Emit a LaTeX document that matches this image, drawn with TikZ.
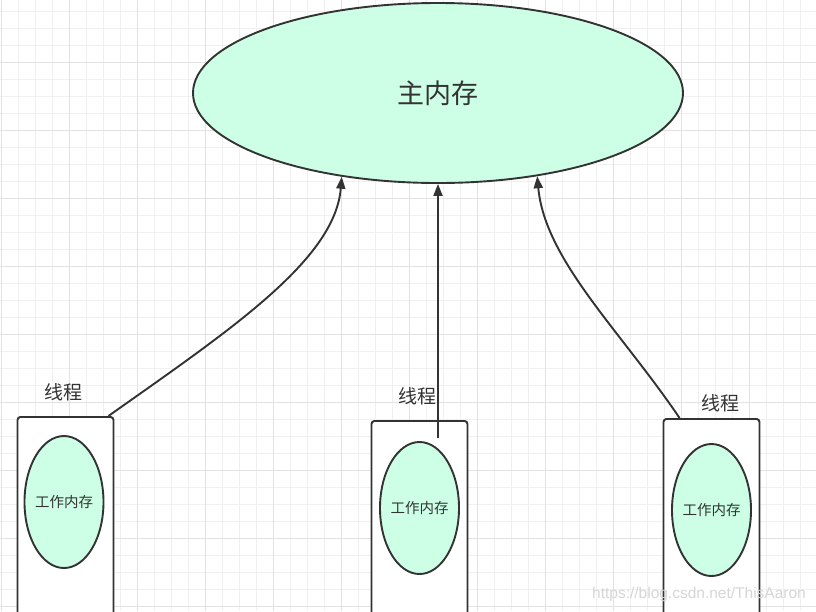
\documentclass[tikz,border=0pt]{standalone}
\usepackage{fontspec}
\setmainfont{Noto Sans CJK SC}
\newfontfamily\wmfont{Liberation Sans}
\usetikzlibrary{arrows.meta, positioning, shapes.geometric, calc}
\usepackage{xcolor}
\definecolor{MemFill}{HTML}{CCFFE6}
\definecolor{LineDark}{HTML}{333333}
\definecolor{GridMinor}{HTML}{F0F0F0}
\definecolor{GridMajor}{HTML}{E2E2E2}
\definecolor{MarkGray}{HTML}{D6D6D6}
\tikzset{
  mainmem/.style={ellipse, draw=LineDark, line width=1.9pt, fill=MemFill,
    minimum width=490pt, minimum height=180pt, inner sep=0pt,
    font=\fontsize{27}{32}\selectfont, text=LineDark},
  workmem/.style={ellipse, draw=LineDark, line width=1.9pt, fill=MemFill,
    minimum width=79pt, minimum height=132pt, inner xsep=-10pt, inner ysep=0pt,
    font=\fontsize{14.5}{17}\selectfont, text=LineDark},
  thrbox/.style={draw=LineDark, line width=1.9pt, rounded corners=3pt, fill=white,
    minimum width=96pt, minimum height=240pt, anchor=north},
  thrlabel/.style={font=\fontsize{19}{23}\selectfont, text=LineDark},
  flow/.style={-{Triangle[length=12pt, width=9pt]}, line width=1.9pt, draw=LineDark},
}

\begin{document}
\begin{tikzpicture}[x=1pt, y=-1pt]
    \clip (0,0) rectangle (816,611);
    \fill[white] (0,0) rectangle (816,611);
    % grid
    \foreach \gx in {1,18,...,816} \draw[GridMinor, line width=0.8pt] (\gx,0) -- (\gx,611);
    \foreach \gy in {11,28,...,611} \draw[GridMinor, line width=0.8pt] (0,\gy) -- (816,\gy);
    \foreach \gx in {1,69,...,816} \draw[GridMajor, line width=0.8pt] (\gx,0) -- (\gx,611);
    \foreach \gy in {62,130,...,611} \draw[GridMajor, line width=0.8pt] (0,\gy) -- (816,\gy);

    \node[mainmem] (mem) at (438,93) {主内存};

    \node[thrbox] (thr1) at (65.5,416) {};
    \node[thrbox] (thr2) at (419.5,420) {};
    \node[thrbox] (thr3) at (711.5,418) {};

    \node[workmem] (wm1) at (64,502) {工作内存};
    \node[workmem] (wm2) at (419.5,508) {工作内存};
    \node[workmem] (wm3) at (711.5,510) {工作内存};

    \node[thrlabel] (lab1) at (63,392) {线程};
    \node[thrlabel] (lab2) at (417,396) {线程};
    \node[thrlabel] (lab3) at (720,403) {线程};

    \coordinate (s2) at (438,438);
    \draw[flow] ([xshift=-6pt]thr1.north east) .. controls (230,330) and (335,260) .. (mem.221);
    \draw[flow] (s2) -- (mem.south);
    \draw[flow] ([xshift=17pt]thr3.north west) .. controls (620,330) and (545,260) .. (mem.320);

    \node[font=\wmfont\fontsize{15.5}{18}\selectfont, text=MarkGray] (wmark) at (699,594) {https://blog.csdn.net/ThisAaron};
\end{tikzpicture}
\end{document}
